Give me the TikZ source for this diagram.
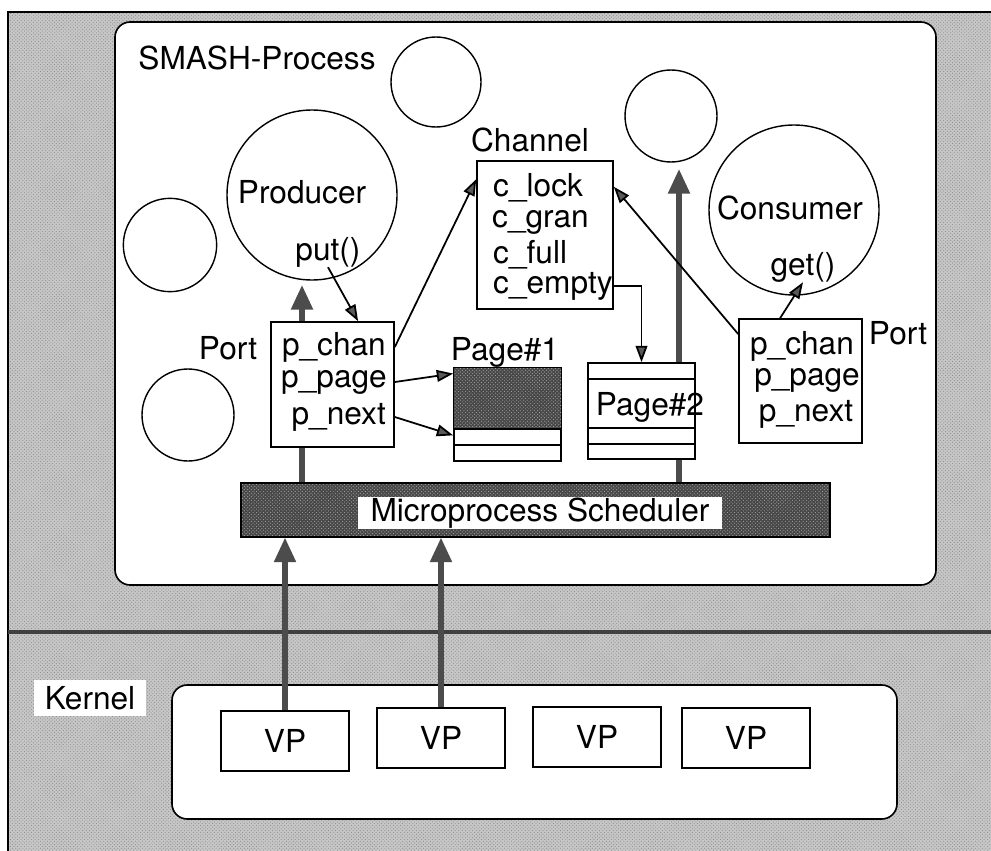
\documentclass[tikz,border=0pt]{standalone}
\usepackage{fontspec}
\setmainfont{TeX Gyre Heros}
\usepackage{tikz}
\usetikzlibrary{arrows.meta,patterns}

\begin{document}
\begin{tikzpicture}[x=0.3mm,y=-0.3mm,font=\fontsize{27}{30}\selectfont,
 ptr/.style={-{Triangle[length=14pt,width=10pt,fill=black!65]},line width=1.5pt},
 bus/.style={-{Triangle[length=21pt,width=18pt,fill=black!70]},draw=black!70,line width=4.3pt},
 box/.style={draw,line width=1.4pt,fill=white,inner sep=0pt},
 ball/.style={circle,draw,line width=1.2pt,fill=white,inner sep=0pt},
 lbl/.style={inner sep=0pt},
 lightdots/.style={preaction={fill=black!22},pattern=crosshatch dots,pattern color=black!45},
 darkdots/.style={preaction={fill=black!72},pattern=crosshatch dots,pattern color=black!35}]
\useasboundingbox (0,0) rectangle (991,850);
% background and user/kernel border
\path[lightdots] (8,12) rectangle (995,855);
\draw[line width=1.4pt] (8,855) -- (8,12) -- (995,12);
\draw[line width=2.6pt,black!75] (8,632) -- (995,632);

% SMASH process and kernel
\node[box,rounded corners=13pt,minimum width=24.63cm,minimum height=16.89cm] (smash) at (525.5,303.5) {};
\node[lbl] (smashlbl) at (257,58) {SMASH-Process};
\node[box,rounded corners=13pt,minimum width=21.75cm,minimum height=4.02cm] (kernel) at (534.5,752) {};
\node[fill=white,inner xsep=9.5pt,inner ysep=5pt] (kernlbl) at (90,698) {Kernel};
\foreach \i/\x/\y in {1/285/741,2/441/738,3/597/737,4/746/738}
  \node[box,minimum width=3.84cm,minimum height=1.8cm] (vp\i) at (\x,\y) {VP};

% scheduler
\node[draw,line width=1pt,darkdots,minimum width=17.67cm,minimum height=1.62cm] (sched) at (535.5,510) {};
\node[fill=white,inner xsep=10.5pt,inner ysep=0pt,minimum height=0.96cm] (schedlbl) at (540,513) {Microprocess Scheduler};

% microprocesses
\node[ball,minimum size=2.7cm] (c1) at (436,82) {};
\node[ball,minimum size=2.76cm] (c2) at (671,116) {};
\node[ball,minimum size=2.8cm] (c3) at (170,245) {};
\node[ball,minimum size=2.76cm] (c4) at (188,415) {};
\node[ball,minimum size=5.1cm] (prod) at (312,195) {};
\node[lbl] (prodlbl) at (302,192) {Producer};
\node[lbl] (put) at (328,252) {put()};
\node[ball,minimum size=5.1cm] (cons) at (794,210) {};
\node[lbl] (conslbl) at (790,208) {Consumer};
\node[lbl] (get) at (803,267) {get()};

% channel
\node[lbl] (chanlbl) at (530,140) {Channel};
\node[box,minimum width=4.08cm,minimum height=4.44cm] (chan) at (545,235) {};
\node[lbl,anchor=west] (clock) at (493,188) {c\_lock};
\node[lbl,anchor=west] (cgran) at (492,222) {c\_gran};
\node[lbl,anchor=west] (cfull) at (493,255) {c\_full};
\node[lbl,anchor=west] (cempty) at (493,286) {c\_empty};

% ports
\node[box,minimum width=3.69cm,minimum height=3.75cm] (lport) at (332.5,384.5) {};
\node[lbl] (lportlbl) at (228,348) {Port};
\node[lbl,anchor=east] (lchan) at (386,347) {p\_chan};
\node[lbl,anchor=east] (lpage) at (387,382) {p\_page};
\node[lbl,anchor=east] (lnext) at (386,417) {p\_next};
\node[box,minimum width=3.69cm,minimum height=3.72cm] (rport) at (800.5,381) {};
\node[lbl] (rportlbl) at (898,333) {Port};
\node[lbl] (rchan) at (802,346) {p\_chan};
\node[lbl] (rpage) at (807,380) {p\_page};
\node[lbl] (rnext) at (806,414) {p\_next};

% thick control flow
\coordinate (lup) at (302,285);
\coordinate (rup) at (679,169);
\draw[bus] (lup |- lport.north) -- (lup);
\draw[bus,-] (lup |- sched.north) -- (lup |- lport.south);
\draw[bus] (rup |- sched.north) -- (rup);
\draw[bus] (vp1.north) -- (vp1.north |- sched.south);
\draw[bus] (vp2.north) -- (vp2.north |- sched.south);

% pages
\node[lbl] (pg1lbl) at (505,352) {Page\#1};
\node[box,minimum width=3.21cm,minimum height=2.79cm] (pg1) at (507.5,414.5) {};
\path[darkdots] (454,368) rectangle (561,429);
\draw[line width=1.4pt] (454,429) -- (561,429) (454,445) -- (561,445);
\node[box,minimum width=3.21cm,minimum height=2.88cm] (pg2) at (641.5,411) {};
\draw[line width=1.4pt] (588,379) -- (695,379) (588,428) -- (695,428) (588,444) -- (695,444);
\node[lbl] (pg2lbl) at (650,407) {Page\#2};

% pointers
\draw[ptr] (put.south) -- (lport.68);
\draw[ptr] (lchan -| lport.east) -- (chan.141);
\draw[ptr] (lpage -| lport.east) -- (pg1.143);
\draw[ptr] (lnext -| lport.east) -- (pg1.201);
\draw[ptr] (cempty.east) -| (pg2.north);
\draw[ptr] (rport.143) -- (chan.35);
\draw[ptr] (rport.108) -- (get.south);
\end{tikzpicture}
\end{document}
